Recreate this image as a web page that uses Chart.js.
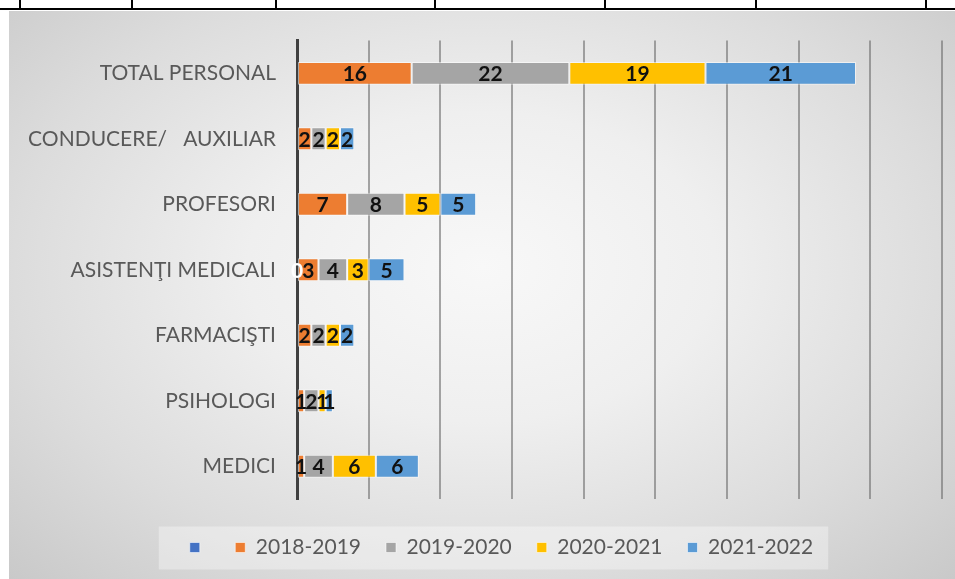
<!DOCTYPE html>
<html>
<head>
<meta charset="utf-8">
<script src="https://cdn.jsdelivr.net/npm/chart.js@4/dist/chart.umd.min.js"></script>
<style>
    body { margin: 0; background: #fff; width: 955px; height: 579px; overflow: hidden; position: relative; }
    .rule-h { position: absolute; left: 0; top: 8px; width: 955px; height: 2px; background: #000; }
    .rule-v { position: absolute; top: 0; width: 2px; height: 9px; background: #000; }
    #chart-bg {
        position: absolute; left: 9px; top: 11px; width: 946px; height: 568px;
        background: radial-gradient(ellipse at 50% 45%, #f8f8f8 0%, #efefef 35%, #dcdcdc 70%, #c9c9c9 100%);
    }
    #chart-box { position: absolute; left: 9px; top: 7px; width: 946px; height: 572px; }
</style>
</head>
<body>
<div id="chart-bg"></div>
<div class="rule-h"></div>
<div class="rule-v" style="left:19px"></div>
<div class="rule-v" style="left:131px"></div>
<div class="rule-v" style="left:275px"></div>
<div class="rule-v" style="left:434px"></div>
<div class="rule-v" style="left:604px"></div>
<div class="rule-v" style="left:755px"></div>
<div class="rule-v" style="left:925px"></div>
<div id="chart-box"><canvas id="staff-chart"></canvas></div>

<script>
// Categories, top to bottom
const categories = ['TOTAL PERSONAL', 'CONDUCERE/   AUXILIAR', 'PROFESORI', 'ASISTENŢI MEDICALI', 'FARMACIŞTI', 'PSIHOLOGI', 'MEDICI'];

// Series values (same order as categories)
const unnamedSeries = [null, null, null, 0, null, null, null];
const year2018 = [16, 2, 7, 3, 2, 1, 1];
const year2019 = [22, 2, 8, 4, 2, 2, 4];
const year2020 = [19, 2, 5, 3, 2, 1, 6];
const year2021 = [21, 2, 5, 5, 2, 1, 6];

const seriesNames = ['', '2018-2019', '2019-2020', '2020-2021', '2021-2022'];
const seriesColors = ['#4472C4', '#ED7D31', '#A5A5A5', '#FFC000', '#5B9BD5'];

const FONT = 'Lato, "Open Sans", sans-serif';
const LEGEND_SHIFT = 26;

// Draws each segment's value in the middle of the bar
const barValueLabels = {
    id: 'barValueLabels',
    afterDatasetsDraw: function(chart) {
        const ctx = chart.ctx;
        ctx.save();
        ctx.font = 'bold 21px ' + FONT;
        ctx.textAlign = 'center';
        ctx.textBaseline = 'middle';
        chart.data.datasets.forEach((ds, di) => {
            const meta = chart.getDatasetMeta(di);
            meta.data.forEach((bar, i) => {
                const v = ds.data[i];
                if (v === null || v === undefined) return;
                ctx.fillStyle = di === 0 ? '#ffffff' : '#111111';
                ctx.fillText(String(v), (bar.x + bar.base) / 2, bar.y + 1);
            });
        });
        ctx.restore();
    }
};

// Nudges the legend right and paints a light panel behind it
const legendPanel = {
    id: 'legendPanel',
    afterUpdate: function(chart) {
        const lg = chart.legend;
        if (!lg) return;
        lg.left += LEGEND_SHIFT;
        lg.right += LEGEND_SHIFT;
        (lg.legendHitBoxes || []).forEach(b => { b.left += LEGEND_SHIFT; });
    },
    beforeDraw: function(chart) {
        const lg = chart.legend;
        if (!lg || !lg.legendHitBoxes || !lg.legendHitBoxes.length) return;
        const boxes = lg.legendHitBoxes;
        const left = boxes[0].left - 31;
        const right = boxes[boxes.length - 1].left + boxes[boxes.length - 1].width + 15;
        const cy = boxes[0].top + boxes[0].height / 2;
        const ctx = chart.ctx;
        ctx.save();
        ctx.fillStyle = 'rgba(255,255,255,0.35)';
        ctx.fillRect(left, cy - 21, right - left, 43);
        ctx.restore();
    }
};

const datasets = [unnamedSeries, year2018, year2019, year2020, year2021].map((values, i) => ({
    label: seriesNames[i],
    data: values,
    backgroundColor: seriesColors[i],
    borderColor: 'rgba(255,255,255,0.55)',
    borderWidth: 1,
    borderSkipped: false,
    categoryPercentage: 1,
    barPercentage: 0.35
}));

new Chart(document.getElementById('staff-chart'), {
    type: 'bar',
    data: { labels: categories, datasets: datasets },
    plugins: [barValueLabels, legendPanel],
    options: {
        indexAxis: 'y',
        responsive: true,
        maintainAspectRatio: false,
        animation: false,
        layout: { padding: { top: 21, right: 13, bottom: 11, left: 0 } },
        plugins: {
            tooltip: { enabled: false },
            legend: {
                position: 'bottom',
                labels: {
                    color: '#595959',
                    font: { family: FONT, size: 21 },
                    boxWidth: 10,
                    boxHeight: 10,
                    padding: 25
                }
            }
        },
        scales: {
            x: {
                stacked: true,
                min: 0,
                max: 90,
                ticks: { display: false, stepSize: 10 },
                grid: { color: 'rgba(110,110,110,0.6)', lineWidth: 2, drawTicks: false },
                border: { display: false },
                afterFit: function(scale) { scale.height = 13; }
            },
            y: {
                stacked: true,
                ticks: {
                    color: '#595959',
                    font: { family: FONT, size: 21 },
                    padding: 21
                },
                grid: { display: false, drawTicks: false },
                border: { display: true, color: '#404040', width: 3 },
                afterFit: function(scale) { scale.width = 288; }
            }
        }
    }
});
</script>
</body>
</html>
